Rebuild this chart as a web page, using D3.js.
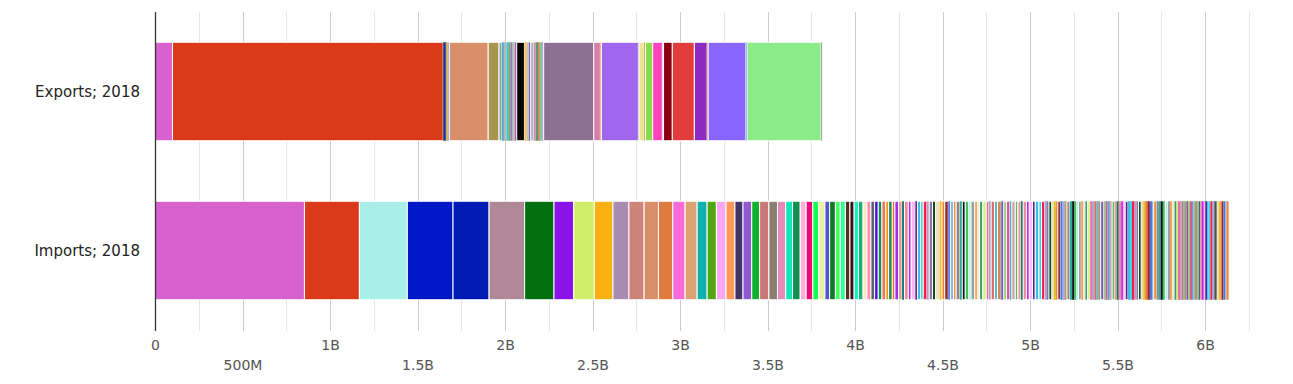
<!DOCTYPE html>
<html>
<head>
<meta charset="utf-8">
<script src="https://cdn.jsdelivr.net/npm/d3@7"></script>
<style>
  html, body { margin: 0; padding: 0; background: #fff; }
  svg { display: block; font-family: "DejaVu Sans", sans-serif; }
</style>
</head>
<body>
<div id="chart"></div>
<script>
// Stacked trade bar: exports vs imports by product, values in millions USD

const WIDTH = 1293;
const HEIGHT = 384;

const rows = ['Exports; 2018', 'Imports; 2018'];

// product values in millions, in stacking order
const exportValues = [
	100, 1547, 10, 9, 8, 8, 222, 62,
	16, 12, 14, 10, 12, 14, 11, 12,
	44,
	12, 14, 10, 16, 12, 14, 10, 12, 10,
	286, 38, 6, 211, 4, 30, 7, 41, 55, 7, 50, 126, 73, 6, 215, 7, 423, 6
];

const exportColors = [
	'#d762cf', '#da3a18', '#1f2d6b', '#2d5be3', '#e8b923', '#9aa7c9', '#d9906a', '#a89550',
	'#7fa38f', '#5aa9c9', '#b7b7b7', '#44c6d6', '#66b37a', '#9a7fae', '#a6d0c4', '#c65a9e',
	'#050505',
	'#f2c14e', '#c9c2b2', '#6e66d9', '#a9b3c2', '#e08ab5', '#5c9e6b', '#d47a4a', '#7fc7a0', '#b8a2d9',
	'#8c7094', '#d980a8', '#e89838', '#a066ee', '#999999', '#ede38c', '#9aa040', '#88dd44', '#ff44bb', '#f0e0e8',
	'#8b0010', '#e23c3c', '#8b2bc0', '#e0907a', '#8866ff', '#4a7ae0', '#8beb88', '#a0a0a0'
];

const importMain = [
	854, 314, 274, 261, 206, 203, 168, 113, 117, 107, 91, 87, 82, 82, 70, 69,
	57, 53, 55, 51, 46, 50, 45, 53, 49, 47, 39, 44, 34, 38, 34, 35,
	27, 33, 28, 29, 26, 24, 25, 26, 22, 23, 21, 21, 21, 22, 16, 21, 15, 21
];

const importMainColors = [
	'#d762cf', '#da3a18', '#a6eee6', '#0019c8', '#001ab4', '#b08898', '#007010', '#8a14e8',
	'#cdee66', '#f9b010', '#a98ab0', '#cc847a', '#d98e68', '#e07b40', '#f86ad8', '#d9a374',
	'#10b0b0', '#50a810', '#f8a8f0', '#ff9858', '#403468', '#9059d0', '#10b030', '#c87878',
	'#8a7e70', '#e888b8', '#10e8b8', '#109050', '#ffb0d8', '#f00878', '#10ff50', '#e8f0a8',
	'#5058c8', '#107828', '#48ff60', '#30ff98', '#503028', '#401018', '#18f0c0', '#18b070',
	'#ffe8c8', '#ff90a8', '#606070', '#4818d8', '#109050', '#f87068', '#e89818', '#208850',
	'#f86818', '#a030f0'
];

// long tail of small import products
const importTail = [
	20, 14, 22, 16, 24, 12, 18, 15, 21, 13, 19, 17, 23, 14, 16, 20, 12, 18, 15, 22,
	13, 17, 19, 14, 21, 16, 12, 18, 20, 15, 13, 19, 17, 22, 14, 16, 18, 12, 20, 15,
	17, 13, 19, 16, 18, 16, 21, 15, 17,
	14, 11, 16, 12, 13, 10, 15, 12, 14, 11, 17, 13, 12, 10, 14, 16, 11, 13, 12, 15,
	10, 14, 12, 13, 11, 16, 12, 10, 14, 13, 15, 11, 12, 14, 10, 13, 16, 12, 11, 14,
	13, 10, 15, 12, 11, 13, 14, 12, 10, 16, 13, 11, 12, 14, 15, 12, 13, 13,
	11, 9, 12, 8, 10, 9, 11, 8, 10, 12, 9, 8, 11, 10, 9, 8, 12, 9, 10, 8,
	11, 9, 10, 8, 9, 11, 10, 8, 9, 10, 8, 12
];

const tailPalette = [
	'#e59a9a', '#1f7a6a', '#e8909a', '#c420f0', '#f8b8f0', '#4a2a90', '#4ab8d8', '#30d8f0',
	'#ff1840', '#b89ad0', '#8878a8', '#104818', '#e8e0c0', '#e8c030', '#f08030', '#902828',
	'#5070e0', '#88b8e8', '#f08838', '#888888', '#30a8a0', '#101010', '#40c060', '#b8f0e0',
	'#98a0a0', '#f0a060', '#f8e8d0', '#30a070', '#d0f078', '#e868a8', '#a8a8c8', '#e06868',
	'#58b8c0', '#c89058', '#7058c8', '#a0c878', '#d85890', '#60a0d8', '#c8a8a0', '#70b070'
];

const xMax = 6.5e9;
const tickStep = 2.5e8;

const svg = d3.select('#chart')
	.append('svg')
	.attr('width', WIDTH)
	.attr('height', HEIGHT);

const x = d3.scaleLinear()
	.domain([0, xMax])
	.range([155, 1292.5]);

const y = d3.scaleBand()
	.domain(rows)
	.range([12, 330]);

const barH = 98.5;

// gridlines
const gridVals = d3.range(0, xMax + 1, tickStep);
svg.append('g')
	.selectAll('line')
	.data(gridVals)
	.join('line')
	.attr('x1', d => Math.round(x(d)) + 0.5)
	.attr('x2', d => Math.round(x(d)) + 0.5)
	.attr('y1', 12)
	.attr('y2', 331)
	.attr('stroke', (d, i) => i % 2 === 0 ? '#cccccc' : '#e6e6e6')
	.attr('stroke-width', 1);

function stack(values) {
	const ends = d3.cumsum(values);
	return values.map((v, i) => ({start: ends[i] - v, end: ends[i]}));
}

function drawRow(row, values, colorOf) {
	const segs = stack(values.map(v => v * 1e6));
	const cy = y(row) + y.bandwidth() / 2;
	svg.append('g')
		.selectAll('rect')
		.data(segs)
		.join('rect')
		.attr('x', d => x(d.start))
		.attr('y', cy - barH / 2)
		.attr('width', d => Math.max(0, x(d.end) - x(d.start)))
		.attr('height', barH)
		.attr('fill', (d, i) => colorOf(i))
		.attr('stroke', '#fff')
		.attr('stroke-width', d => (x(d.end) - x(d.start)) > 2.5 ? 1 : 0);
}

drawRow(rows[0], exportValues, i => exportColors[i]);
drawRow(rows[1], importMain.concat(importTail),
	i => i < importMainColors.length ? importMainColors[i] : tailPalette[(i - importMainColors.length) % tailPalette.length]);

// left axis line
svg.append('line')
	.attr('x1', 155.5).attr('x2', 155.5)
	.attr('y1', 12).attr('y2', 331)
	.attr('stroke', '#333')
	.attr('stroke-width', 1.3);

// row labels
svg.append('g')
	.selectAll('text')
	.data(rows)
	.join('text')
	.attr('x', 140)
	.attr('y', d => y(d) + y.bandwidth() / 2)
	.attr('dy', '0.35em')
	.attr('text-anchor', 'end')
	.attr('fill', '#222')
	.style('font-size', '15px')
	.text(d => d);

function fmt(v) {
	if (v === 0) return '0';
	if (v >= 1e9) return (v / 1e9) + 'B';
	return (v / 1e6) + 'M';
}

// alternating tick labels: whole billions on the first line, halves below
const labelVals = d3.range(0, 6e9 + 1, 5e8);
const axisTop = d3.axisBottom(x)
	.tickValues(labelVals.filter((d, i) => i % 2 === 0))
	.tickFormat(fmt)
	.tickSize(0)
	.tickPadding(0);
const axisBottom = d3.axisBottom(x)
	.tickValues(labelVals.filter((d, i) => i % 2 === 1))
	.tickFormat(fmt)
	.tickSize(0)
	.tickPadding(0);

[[axisTop, 340], [axisBottom, 360]].forEach(([ax, ty]) => {
	const g = svg.append('g')
		.attr('transform', `translate(0,${ty})`)
		.call(ax);
	g.select('.domain').remove();
	g.selectAll('text')
		.attr('fill', '#555')
		.style('font-size', '14px')
		.style('font-family', '"DejaVu Sans", sans-serif');
});
</script>
</body>
</html>
